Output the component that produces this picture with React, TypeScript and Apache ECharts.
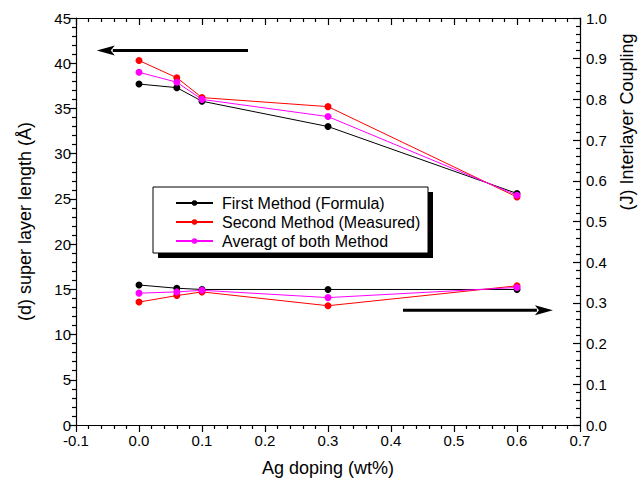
import React, { useEffect, useRef } from "react";
import * as echarts from "echarts";

const dopingX = [0, 0.06, 0.1, 0.3, 0.6];
const firstLength = [37.7, 37.3, 35.8, 33.0, 25.6];
const secondLength = [40.3, 38.4, 36.2, 35.2, 25.2];
const averageLength = [39.0, 37.9, 36.0, 34.1, 25.4];
const firstJ = [0.344, 0.336, 0.333, 0.333, 0.333];
const secondJ = [0.302, 0.318, 0.327, 0.293, 0.342];
const averageJ = [0.324, 0.327, 0.331, 0.313, 0.338];
const seriesNames = ["First Method (Formula)", "Second Method (Measured)", "Averagt of both Method"];
const seriesColors = ["#000000", "#ff0000", "#ff00ff"];
// annotation arrows in data units of the left axis: [tail, tip]
const leftArrow = [[0.173, 41.4], [-0.067, 41.4]];
const rightArrow = [[0.419, 12.7], [0.657, 12.7]];

const FONT = "'Liberation Sans', Arial, sans-serif";

function pairs(xs: number[], ys: number[]) {
  return xs.map((x, i) => [x, ys[i]]);
}

export default function App() {
  const ref = useRef<HTMLDivElement>(null);
  useEffect(() => {
    document.body.style.margin = "0";
    const chart = echarts.init(ref.current!, null, { renderer: "svg" });
    const mkSeries = (name: string, color: string, data: number[][], yAxisIndex: number) => ({
      type: "line",
      name,
      yAxisIndex,
      data,
      symbol: "circle",
      symbolSize: 7,
      itemStyle: { color },
      lineStyle: { color, width: 1 },
    });
    const tickStyle = { color: "#000", width: 1.2 };
    const xBase = {
      type: "value",
      min: -0.1,
      max: 0.7,
      interval: 0.1,
      splitLine: { show: false },
      minorSplitLine: { show: false },
      axisLine: { show: true, onZero: false, lineStyle: { color: "#000", width: 1.2 } },
      axisTick: { show: true, length: 7, lineStyle: tickStyle },
      minorTick: { show: true, splitNumber: 5, length: 4, lineStyle: tickStyle },
    };
    const yTick = { show: true, length: 7, lineStyle: tickStyle };
    const option: any = {
      animation: false,
      backgroundColor: "#fff",
      grid: { left: 76, right: 61, top: 18, bottom: 68, containLabel: false },
      xAxis: [
        {
          ...xBase,
          position: "bottom",
          name: "Ag doping (wt%)",
          nameLocation: "middle",
          nameGap: 34,
          nameTextStyle: { fontSize: 18, color: "#000", fontFamily: FONT },
          axisLabel: {
            fontSize: 15,
            color: "#000",
            fontFamily: FONT,
            margin: 8,
            formatter: (v: number) => v.toFixed(1),
          },
        },
        {
          ...xBase,
          position: "top",
          axisLabel: { show: false },
          axisTick: { ...xBase.axisTick, inside: true },
          minorTick: { ...xBase.minorTick },
        },
      ],
      yAxis: [
        {
          type: "value",
          min: 0,
          max: 45,
          interval: 5,
          position: "left",
          name: "(d) super layer length (Å)",
          nameLocation: "middle",
          nameGap: 42,
          nameTextStyle: { fontSize: 18, color: "#000", fontFamily: FONT },
          splitLine: { show: false },
          minorSplitLine: { show: false },
          axisLine: { show: true, onZero: false, lineStyle: { color: "#000", width: 1.2 } },
          axisTick: yTick,
          minorTick: { show: true, splitNumber: 5, length: 4, lineStyle: tickStyle },
          axisLabel: { fontSize: 15, color: "#000", fontFamily: FONT, margin: 5 },
        },
        {
          type: "value",
          min: 0,
          max: 1,
          interval: 0.1,
          position: "right",
          splitLine: { show: false },
          minorSplitLine: { show: false },
          axisLine: { show: true, onZero: false, lineStyle: { color: "#000", width: 1.2 } },
          axisTick: { ...yTick, inside: true },
          minorTick: { show: true, splitNumber: 5, length: 4, lineStyle: tickStyle },
          axisLabel: {
            fontSize: 15,
            color: "#000",
            fontFamily: FONT,
            margin: 6,
            formatter: (v: number) => v.toFixed(1),
          },
        },
      ],
      legend: {
        orient: "vertical",
        left: 170,
        top: 190,
        itemWidth: 37,
        itemHeight: 7,
        itemGap: 3,
        textStyle: { fontSize: 16, color: "#000", fontFamily: FONT, padding: [0, 0, 0, 4] },
        data: seriesNames,
        z: 10,
      },
      series: [
        mkSeries(seriesNames[0], seriesColors[0], pairs(dopingX, firstLength), 0),
        mkSeries(seriesNames[1], seriesColors[1], pairs(dopingX, secondLength), 0),
        mkSeries(seriesNames[2], seriesColors[2], pairs(dopingX, averageLength), 0),
        mkSeries(seriesNames[0], seriesColors[0], pairs(dopingX, firstJ), 1),
        mkSeries(seriesNames[1], seriesColors[1], pairs(dopingX, secondJ), 1),
        mkSeries(seriesNames[2], seriesColors[2], pairs(dopingX, averageJ), 1),
      ],
    };
    chart.setOption(option);

    const arrowGraphic = (a: number[][]) => {
      const tail = chart.convertToPixel({ gridIndex: 0 }, a[0]) as number[];
      const tip = chart.convertToPixel({ gridIndex: 0 }, a[1]) as number[];
      const dx = tip[0] - tail[0];
      const dir = dx > 0 ? 1 : -1;
      const headLen = 18;
      const halfW = 5;
      const baseX = tip[0] - dir * headLen;
      return [
        {
          type: "line",
          shape: { x1: tail[0], y1: tail[1], x2: baseX + dir * 2, y2: tip[1] },
          style: { stroke: "#000", lineWidth: 3 },
          z: 20,
        },
        {
          type: "polygon",
          shape: {
            points: [
              [tip[0], tip[1]],
              [baseX, tip[1] - halfW],
              [baseX + dir * 4, tip[1]],
              [baseX, tip[1] + halfW],
            ],
          },
          style: { fill: "#000" },
          z: 20,
        },
      ];
    };

    chart.setOption({
      graphic: [
        { type: "rect", shape: { x: 158, y: 192, width: 275, height: 66 }, style: { fill: "#000" }, z: 3 },
        {
          type: "rect",
          shape: { x: 153, y: 187, width: 275, height: 66 },
          style: { fill: "#fff", stroke: "#000", lineWidth: 1 },
          z: 4,
        },
        {
          type: "text",
          x: 627,
          y: 122,
          rotation: Math.PI / 2,
          style: {
            text: "(J) Interlayer Coupling",
            fontSize: 18,
            fontFamily: FONT,
            fill: "#000",
            align: "center",
            verticalAlign: "middle",
          },
          z: 5,
        },
        ...arrowGraphic(leftArrow),
        ...arrowGraphic(rightArrow),
      ],
    });
    return () => chart.dispose();
  }, []);
  return <div ref={ref} style={{ width: 641, height: 493 }} />;
}
